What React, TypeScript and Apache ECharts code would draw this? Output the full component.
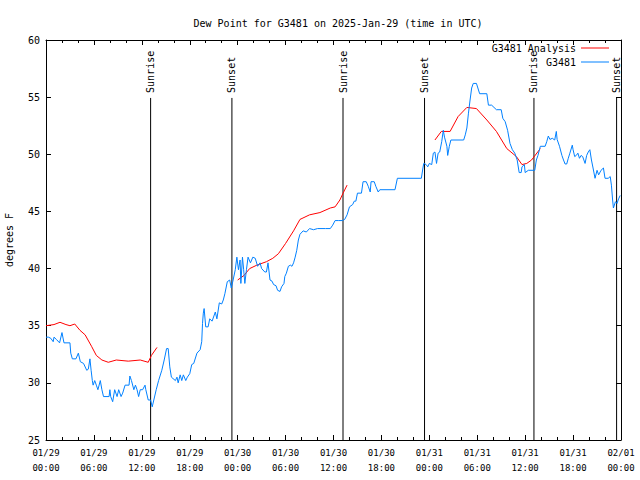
import React, { useEffect, useRef } from "react";
import * as echarts from "echarts";

// Hours since 2025-01-29 00:00 UTC
const xTickLabels = [
  "01/29\n00:00", "01/29\n06:00", "01/29\n12:00", "01/29\n18:00",
  "01/30\n00:00", "01/30\n06:00", "01/30\n12:00", "01/30\n18:00",
  "01/31\n00:00", "01/31\n06:00", "01/31\n12:00", "01/31\n18:00",
  "02/01\n00:00",
];
const yTicks = [25, 30, 35, 40, 45, 50, 55, 60];

const eventHours = [13.1, 23.28, 37.19, 47.4, 61.1, 71.45];
const eventNames = ["Sunrise", "Sunset", "Sunrise", "Sunset", "Sunrise", "Sunset"];

const analysisHours = [
  0, 1, 1.75, 2.5, 3, 3.6, 4.25, 4.9, 5.7, 6.3, 7.0, 7.8, 8.8, 10.3, 11.8, 12.8, 13.2, 13.9,
  18,
  24.0, 24.8, 25.5, 26.4, 27.6, 28.4, 29.1, 30.0, 31.0, 31.8, 33.0, 34.3, 35.6, 36.2, 36.8, 37.2, 37.7,
  43,
  48.7, 49.5, 50.6, 51.6, 52.7, 53.9, 55.2, 56.4, 57.7, 58.9, 59.6, 60.2, 60.8, 61.9,
];
const analysisValues: (number | null)[] = [
  35.0, 35.1, 35.3, 35.1, 35.0, 35.15, 34.6, 34.2, 33.2, 32.4, 32.0, 31.8, 32.0, 31.9, 32.0, 31.8, 32.4, 33.1,
  null,
  39.0, 39.4, 40.0, 40.3, 40.6, 40.9, 41.3, 42.2, 43.3, 44.3, 44.7, 44.9, 45.3, 45.4, 46.0, 46.6, 47.3,
  null,
  51.25, 52.0, 52.0, 53.3, 54.1, 54.0, 53.0, 52.0, 50.5, 49.8, 49.1, 49.2, 49.5, 50.5,
];

const obsHours = [
  0.0, 0.3, 0.6, 0.9, 1.0, 1.3, 1.7, 2.0, 2.25, 3.0, 3.1, 3.3, 3.75, 4.05, 4.3, 4.7, 5.1, 5.3, 5.5, 5.65,
  5.8, 5.9, 6.1, 6.3, 6.5, 6.8, 7.0, 7.2, 7.9, 8.0, 8.1, 8.35, 8.6, 8.9, 9.1, 9.4, 9.6, 9.9, 10.4, 10.5,
  10.7, 11.0, 11.2, 11.4, 11.6, 11.8, 12.1, 12.4, 12.5, 12.8, 13.1, 13.3, 13.5, 13.8, 14.1, 14.5, 14.8, 15.1, 15.3, 15.5,
  15.7, 16.2, 16.4, 16.55, 16.8, 17.0, 17.2, 17.5, 17.7, 18.0, 18.25, 18.5, 18.9, 19.3, 19.5, 19.6, 19.7, 19.8, 20.0, 20.3,
  20.5, 20.8, 21.2, 21.4, 21.7, 22.0, 22.2, 22.4, 22.7, 23.0, 23.2, 23.4, 23.7, 23.9, 24.1, 24.3, 24.4, 24.6, 24.75, 24.9,
  25.1, 25.3, 25.6, 25.9, 26.2, 26.5, 26.8, 27.0, 27.4, 27.6, 27.8, 28.05, 28.3, 28.5, 28.8, 29.0, 29.3, 29.5, 29.8, 29.9,
  30.1, 30.35, 30.6, 30.8, 31.0, 31.2, 31.4, 31.6, 31.8, 32.2, 32.6, 33.0, 33.5, 34.0, 35.0, 35.6, 35.9, 36.2, 36.6, 37.1,
  37.4, 37.7, 38.0, 38.4, 38.6, 38.8, 39.0, 39.5, 39.7, 40.1, 40.35, 40.6, 40.7, 41.1, 41.3, 41.6, 41.8, 43.7, 44.0, 47.0,
  47.2, 47.3, 47.6, 47.8, 48.0, 48.3, 48.5, 48.7, 48.9, 49.1, 49.3, 49.55, 49.75, 49.9, 50.2, 50.3, 50.5, 50.7, 52.3, 52.5,
  52.7, 52.9, 53.1, 53.3, 53.5, 53.9, 54.3, 55.2, 55.4, 55.8, 56.4, 57.0, 57.2, 57.5, 57.8, 58.1, 58.4, 58.7, 59.0, 59.25,
  59.5, 59.6, 59.9, 60.0, 60.4, 61.2, 61.4, 61.6, 61.9, 62.5, 62.7, 62.9, 63.1, 63.4, 63.7, 63.9, 64.0, 64.3, 64.6, 64.8,
  65.0, 65.2, 65.4, 65.6, 65.9, 66.0, 66.2, 66.4, 66.6, 66.8, 67.0, 67.2, 67.5, 67.7, 67.9, 68.1, 68.3, 68.5, 68.75, 69.0,
  69.2, 69.5, 69.8, 70.0, 70.4, 70.65, 70.8, 70.95, 71.05, 71.3, 71.5, 71.7, 71.9,
];
const obsValues = [
  34.0, 34.0, 33.9, 33.6, 34.0, 33.8, 33.5, 34.4, 33.5, 33.5, 32.6, 32.1, 32.1, 32.6, 31.85, 31.7, 31.1, 31.2, 32.1, 31.1,
  30.2, 29.8, 30.2, 29.8, 29.4, 30.2, 29.4, 28.8, 28.8, 29.4, 28.8, 28.35, 29.4, 28.8, 29.4, 28.8, 29.1, 29.8, 29.8, 30.6,
  30.2, 29.4, 29.8, 29.4, 28.8, 29.4, 29.4, 29.8, 29.4, 28.5, 28.5, 27.9, 28.5, 29.4, 30.2, 31.1, 32.0, 33.0, 33.0, 31.4,
  30.5, 30.2, 30.5, 30.0, 30.7, 30.2, 30.7, 30.2, 30.5, 30.8, 31.6, 31.7, 32.6, 32.9, 33.6, 35.2, 36.1, 36.5, 34.9, 34.9,
  35.6, 35.4, 36.2, 35.6, 37.0, 36.9, 37.25, 37.8, 38.85, 39.0, 38.3, 38.9, 39.9, 41.0, 39.9, 40.75, 38.7, 41.0, 39.9, 38.7,
  39.9, 41.0, 40.5, 41.0, 40.9, 40.2, 40.5, 40.0, 39.7, 39.7, 40.5, 39.0, 38.9, 38.6, 38.5, 38.1, 38.0, 38.4, 38.7, 39.3,
  39.6, 40.2, 40.3, 40.2, 40.5, 41.0, 41.6, 42.5, 43.0, 43.3, 43.2, 43.5, 43.4, 43.5, 43.5, 43.5, 43.8, 44.2, 44.2, 44.2,
  44.3, 44.7, 45.4, 45.6, 45.9, 45.9, 46.6, 46.6, 47.6, 47.6, 47.2, 46.7, 47.6, 47.6, 47.2, 46.7, 46.9, 46.9, 47.9, 47.9,
  48.8, 49.2, 49.1, 48.9, 49.2, 49.1, 50.1, 50.2, 49.2, 50.1, 50.2, 51.1, 52.1, 51.5, 50.7, 49.9, 50.7, 51.25, 51.25, 51.7,
  52.3, 53.6, 54.75, 55.8, 56.2, 56.2, 55.3, 55.3, 54.3, 54.3, 53.9, 53.9, 53.15, 52.85, 52.1, 50.95, 50.4, 50.1, 49.5, 48.4,
  48.4, 48.9, 49.1, 48.4, 48.6, 48.6, 49.5, 49.9, 50.7, 50.7, 51.1, 51.6, 51.3, 51.4, 51.25, 52.0, 51.3, 50.7, 49.9, 49.5,
  49.15, 49.15, 49.65, 50.1, 50.8, 50.4, 49.8, 49.9, 50.1, 49.65, 49.9, 49.8, 49.2, 49.9, 50.2, 50.4, 49.5, 48.8, 47.9, 48.6,
  48.2, 48.6, 48.8, 47.9, 47.9, 48.05, 47.3, 46.0, 45.3, 45.85, 45.7, 46.1, 46.4,
];

const MONO = "'DejaVu Sans Mono', 'Liberation Mono', monospace";
const LINE_TOP_VALUE = 54.93;

export default function App() {
  const ref = useRef<HTMLDivElement>(null);
  useEffect(() => {
    if (!ref.current) return;
    const chart = echarts.init(ref.current, null, { renderer: "svg" });
    const tickStyle = {
      axisLine: { show: true, onZero: false, lineStyle: { color: "#000", width: 1 } },
      splitLine: { show: false },
    };
    chart.setOption({
      animation: false,
      backgroundColor: "#fff",
      title: {
        text: "Dew Point for G3481 on 2025-Jan-29 (time in UTC)",
        left: 333,
        textAlign: "center",
        top: 13,
        textStyle: { fontFamily: MONO, fontSize: 10, fontWeight: "normal", color: "#000" },
      },
      legend: [
        {
          data: ["G3481 Analysis"],
          right: 31,
          top: 43,
          padding: 0,
          align: "right",
          orient: "vertical",
          icon: "rect",
          itemWidth: 28,
          itemHeight: 1,
          itemGap: 4,
          textStyle: { fontFamily: MONO, fontSize: 10, color: "#000" },
        },
        {
          data: ["G3481"],
          right: 31,
          top: 57,
          padding: 0,
          align: "right",
          orient: "vertical",
          icon: "rect",
          itemWidth: 28,
          itemHeight: 1,
          textStyle: { fontFamily: MONO, fontSize: 10, color: "#000" },
        },
      ],
      grid: { left: 46, right: 19, top: 40, bottom: 40, outerBoundsMode: "none", containLabel: false },
      xAxis: [
        {
          type: "value",
          min: 0,
          max: 72,
          interval: 6,
          position: "bottom",
          ...tickStyle,
          axisTick: { show: true, inside: true, length: 5, lineStyle: { color: "#000" } },
          minorTick: { show: true, splitNumber: 3, length: 3, lineStyle: { color: "#000" } },
          axisLabel: {
            fontFamily: MONO,
            fontSize: 9,
            color: "#000",
            lineHeight: 15,
            margin: 5,
            formatter: (v: number) => xTickLabels[Math.round(v / 6)] ?? "",
          },
        },
        {
          type: "value",
          min: 0,
          max: 72,
          interval: 6,
          position: "top",
          ...tickStyle,
          axisTick: { show: true, inside: true, length: 5, lineStyle: { color: "#000" } },
          minorTick: { show: true, splitNumber: 3, length: 3, lineStyle: { color: "#000" } },
          axisLabel: { show: false },
        },
      ],
      yAxis: [
        {
          type: "value",
          min: yTicks[0],
          max: yTicks[yTicks.length - 1],
          interval: 5,
          position: "left",
          name: "degrees F",
          nameLocation: "middle",
          nameGap: 32,
          nameTextStyle: { fontFamily: MONO, fontSize: 10, color: "#000" },
          ...tickStyle,
          axisTick: { show: true, inside: true, length: 5, lineStyle: { color: "#000" } },
          axisLabel: { fontFamily: MONO, fontSize: 10, color: "#000", margin: 6 },
        },
        {
          type: "value",
          min: yTicks[0],
          max: yTicks[yTicks.length - 1],
          interval: 5,
          position: "right",
          ...tickStyle,
          axisTick: { show: true, inside: true, length: 5, lineStyle: { color: "#000" } },
          axisLabel: { show: false },
        },
      ],
      series: [
        {
          type: "custom",
          name: "events",
          xAxisIndex: 0,
          yAxisIndex: 0,
          clip: false,
          silent: true,
          data: eventHours.map((h) => [h, yTicks[0]]),
          renderItem: (params: any, api: any) => {
            const [x, yb] = api.coord([api.value(0), yTicks[0]]);
            const yt = api.coord([api.value(0), LINE_TOP_VALUE])[1];
            return {
              type: "group",
              children: [
                {
                  type: "line",
                  shape: { x1: x, y1: yb, x2: x, y2: yt },
                  style: { stroke: "#000", lineWidth: 1 },
                },
                {
                  type: "text",
                  x: x,
                  y: yt - 5,
                  rotation: Math.PI / 2,
                  style: {
                    text: eventNames[params.dataIndex],
                    fontFamily: MONO,
                    fontSize: 10,
                    fill: "#000",
                    align: "left",
                    verticalAlign: "middle",
                  },
                },
              ],
            };
          },
        },
        {
          type: "line",
          name: "G3481 Analysis",
          data: analysisHours.map((h, i) => [h, analysisValues[i]]),
          showSymbol: false,
          connectNulls: false,
          color: "#ff0000",
          lineStyle: { color: "#ff0000", width: 1 },
        },
        {
          type: "line",
          name: "G3481",
          data: obsHours.map((h, i) => [h, obsValues[i]]),
          showSymbol: false,
          color: "#0080ff",
          lineStyle: { color: "#0080ff", width: 1 },
        },
      ],
    });
    return () => chart.dispose();
  }, []);
  return (
    <div
      ref={ref}
      style={{ position: "absolute", left: 0, top: 0, width: 640, height: 480 }}
    />
  );
}
